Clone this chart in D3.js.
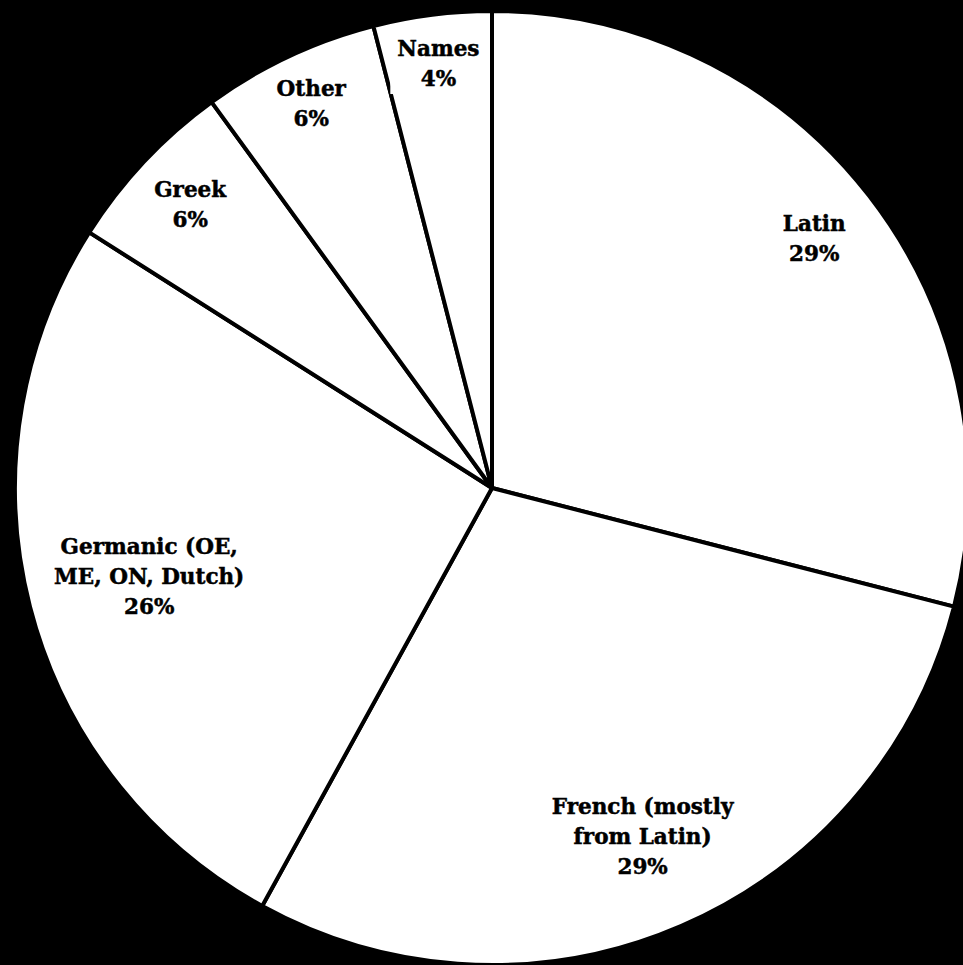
<!DOCTYPE html>
<html lang="en">
<head>
    <meta charset="UTF-8">
    <title>Origins of English Vocabulary</title>
    <script src="https://cdnjs.cloudflare.com/ajax/libs/d3/7.8.5/d3.min.js"></script>
    <style>
        body {
            margin: 0;
            padding: 0;
            background-color: #000;
            overflow: hidden;
        }
        .slice {
            fill: #fff;
            stroke: #000;
            stroke-width: 4px;
            stroke-linejoin: round;
        }
        .label text {
            font-family: "DejaVu Serif", serif;
            font-weight: bold;
            font-size: 21.5px;
            fill: #000;
            stroke: #000;
            stroke-width: 0.5px;
        }
    </style>
</head>
<body>
    <div id="chart"></div>

    <script>
        // Chart data (clockwise from 12 o'clock)
        const categories = ['Latin', 'French (mostly from Latin)', 'Germanic (OE, ME, ON, Dutch)', 'Greek', 'Other', 'Names'];
        const shares = [29, 29, 26, 6, 6, 4];
        // how each category label breaks into lines
        const labelLines = [
            ['Latin'],
            ['French (mostly', 'from Latin)'],
            ['Germanic (OE,', 'ME, ON, Dutch)'],
            ['Greek'],
            ['Other'],
            ['Names']
        ];

        // Layout
        const width = 963;
        const height = 965;
        const cx = 492, cy = 488;
        const radius = 477;
        // label distance from centre, as fraction of the radius
        const labelRadius = [0.855, 0.795, 0.742, 0.868, 0.89, 0.897];
        const lineHeight = 30;

        const svg = d3.select('#chart')
            .append('svg')
            .attr('width', width)
            .attr('height', height);

        const g = svg.append('g')
            .attr('transform', `translate(${cx},${cy})`);

        const data = categories.map((c, i) => ({ name: c, value: shares[i], lines: labelLines[i], idx: i }));

        const pie = d3.pie()
            .value(d => d.value)
            .sort(null);

        const arc = d3.arc()
            .innerRadius(0)
            .outerRadius(radius);

        const arcs = pie(data);

        g.selectAll('path.slice')
            .data(arcs)
            .enter().append('path')
            .attr('class', 'slice')
            .attr('d', arc);

        // Data labels
        const labels = g.selectAll('g.label')
            .data(arcs)
            .enter().append('g')
            .attr('class', 'label')
            .attr('transform', d => {
                const r = radius * labelRadius[d.data.idx];
                const a = (d.startAngle + d.endAngle) / 2;
                return `translate(${r * Math.sin(a)},${-r * Math.cos(a)})`;
            });

        labels.each(function(d) {
            const lg = d3.select(this);
            const lines = d.data.lines.concat([d.data.value + '%']);
            const top = -(lines.length - 1) * lineHeight / 2;
            const bg = lg.append('rect').attr('fill', '#fff');
            const txt = lg.append('text')
                .attr('text-anchor', 'middle');
            lines.forEach((t, i) => {
                txt.append('tspan')
                    .attr('x', 0)
                    .attr('y', top + i * lineHeight)
                    .attr('dy', '0.35em')
                    .text(t);
            });
            const bb = txt.node().getBBox();
            bg.attr('x', bb.x - 7)
              .attr('y', bb.y - 3)
              .attr('width', bb.width + 14)
              .attr('height', bb.height + 6);
        });
    </script>
</body>
</html>
